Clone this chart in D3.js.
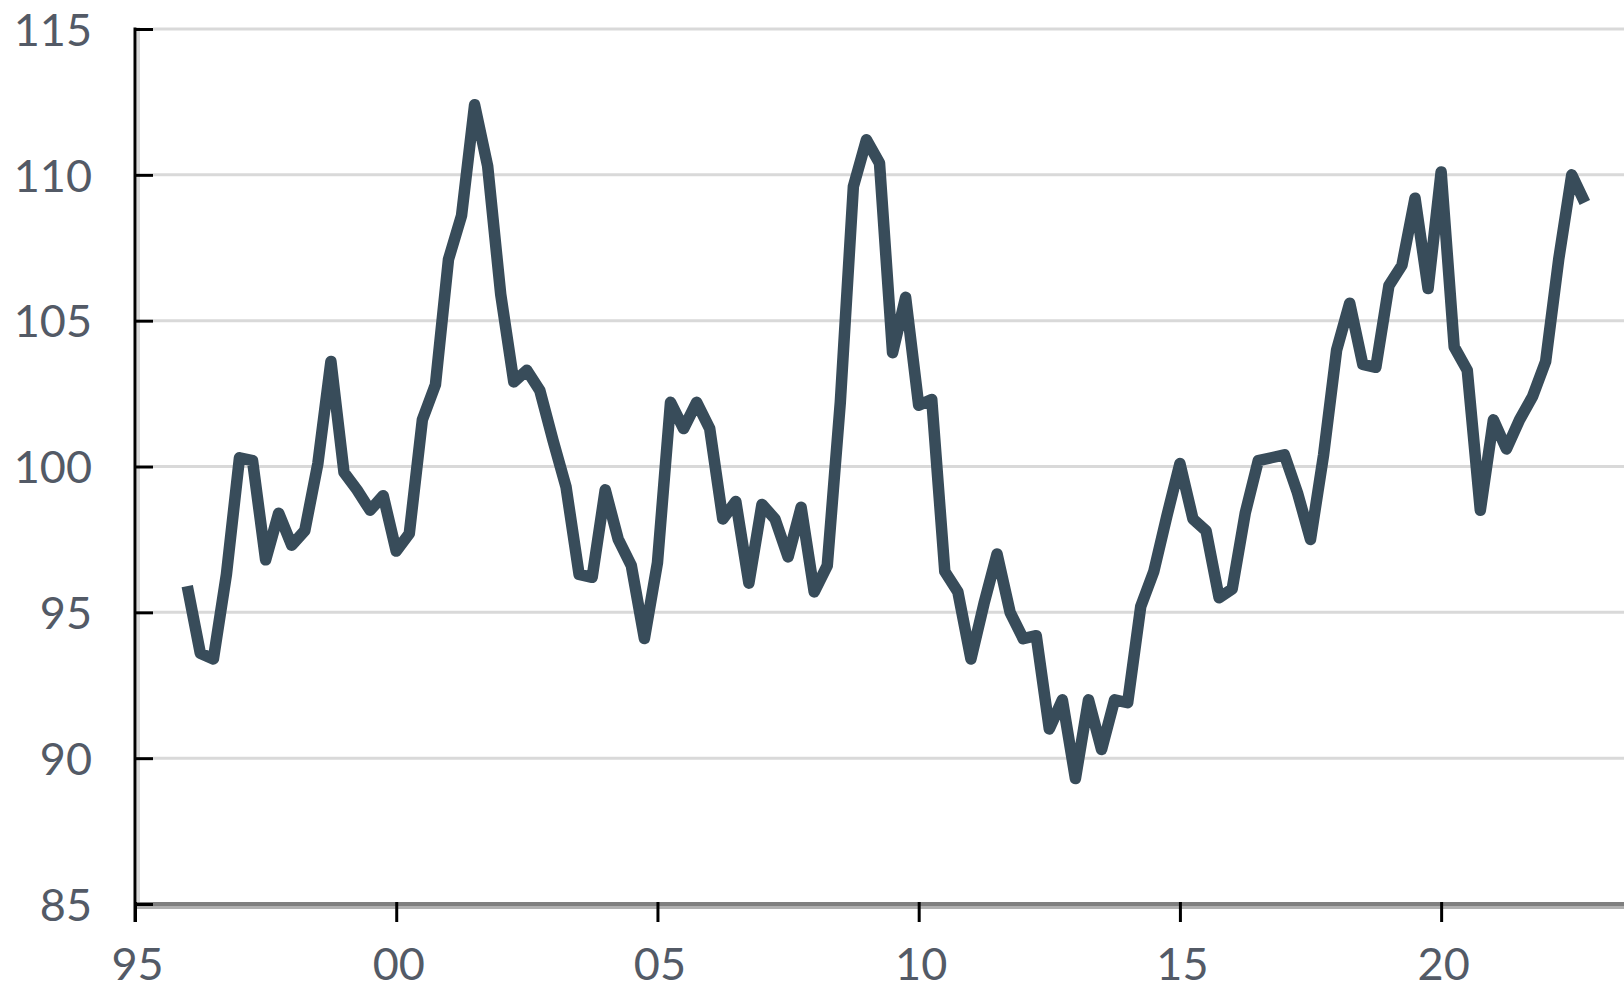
<!DOCTYPE html>
<html>
<head>
<meta charset="utf-8">
<script src="https://cdn.jsdelivr.net/npm/d3@7/dist/d3.min.js"></script>
<style>
  html, body { margin: 0; padding: 0; background: #ffffff; }
  svg { display: block; }
  text { font-family: Lato, "Open Sans", sans-serif; }
</style>
</head>
<body>
<svg id="chart" width="1624" height="986"></svg>
<script>
// ---- data (quarterly, 1996Q1 .. 2022Q4) ----
const years = [1996,1997,1998,1999,2000,2001,2002,2003,2004,2005,2006,2007,2008,
               2009,2010,2011,2012,2013,2014,2015,2016,2017,2018,2019,2020,2021,2022];
const quarters = ["Q1","Q2","Q3","Q4"];
const values = [
  95.9, 93.6, 93.4, 96.3,     // 1996
  100.3, 100.2, 96.8, 98.4,   // 1997
  97.3, 97.8, 100.1, 103.6,   // 1998
  99.8, 99.2, 98.5, 99.0,     // 1999
  97.1, 97.7, 101.6, 102.8,   // 2000
  107.1, 108.6, 112.4, 110.3, // 2001
  105.9, 102.9, 103.3, 102.6, // 2002
  100.9, 99.3, 96.3, 96.2,    // 2003
  99.2, 97.5, 96.6, 94.1,     // 2004
  96.7, 102.2, 101.3, 102.2,  // 2005
  101.3, 98.2, 98.8, 96.0,    // 2006
  98.7, 98.2, 96.9, 98.6,     // 2007
  95.7, 96.6, 102.2, 109.6,   // 2008
  111.2, 110.4, 103.9, 105.8, // 2009
  102.1, 102.3, 96.4, 95.7,   // 2010
  93.4, 95.3, 97.0, 95.0,     // 2011
  94.1, 94.2, 91.0, 92.0,     // 2012
  89.3, 92.0, 90.3, 92.0,     // 2013
  91.9, 95.2, 96.4, 98.3,     // 2014
  100.1, 98.2, 97.8, 95.5,    // 2015
  95.8, 98.4, 100.2, 100.3,   // 2016
  100.4, 99.1, 97.5, 100.4,   // 2017
  104.0, 105.6, 103.5, 103.4, // 2018
  106.2, 106.9, 109.2, 106.1, // 2019
  110.1, 104.1, 103.3, 98.5,  // 2020
  101.6, 100.6, 101.6, 102.4, // 2021
  103.6, 107.1, 110.0, 109.05 // 2022
];
const yTickValues = [85, 90, 95, 100, 105, 110, 115];
const yTickLabels = ["85", "90", "95", "100", "105", "110", "115"];
const xTickValues = [1995, 2000, 2005, 2010, 2015, 2020];
const xTickLabels = ["95", "00", "05", "10", "15", "20"];

// ---- build points ----
const points = values.map((v, i) => ({
  t: years[Math.floor(i / quarters.length)] + (i % quarters.length) / quarters.length,
  v: v
}));

// ---- layout ----
const svg = d3.select("#chart");
const W = 1624, H = 986;
const axisX = 135, axisY = 904, topY = 29;

const x = d3.scaleLinear().domain([1995, 2023.5]).range([axisX, W]);
const y = d3.scaleLinear().domain([85, 115]).range([axisY, topY]);

svg.append("rect").attr("width", W).attr("height", H).attr("fill", "#ffffff");

// gridlines
svg.append("g").selectAll("line")
  .data(yTickValues.filter(d => d > 85))
  .join("line")
  .attr("x1", axisX + 18).attr("x2", W)
  .attr("y1", d => y(d)).attr("y2", d => y(d))
  .attr("stroke", "#d9d9d9").attr("stroke-width", 3);

// light vertical line beside y axis
svg.append("line")
  .attr("x1", axisX + 3.5).attr("x2", axisX + 3.5)
  .attr("y1", y(115) - 1.5).attr("y2", axisY)
  .attr("stroke", "#d9d9d9").attr("stroke-width", 3);

// x axis base lines
svg.append("line")
  .attr("x1", axisX).attr("x2", W).attr("y1", axisY).attr("y2", axisY)
  .attr("stroke", "#7f7f7f").attr("stroke-width", 4);
svg.append("line")
  .attr("x1", axisX).attr("x2", W).attr("y1", axisY + 3.5).attr("y2", axisY + 3.5)
  .attr("stroke", "#b0b0b0").attr("stroke-width", 3);

// y axis labels
const yAxis = d3.axisLeft(y)
  .tickValues(yTickValues)
  .tickFormat((d, i) => yTickLabels[i])
  .tickSize(0)
  .tickPadding(43);
const gy = svg.append("g").attr("transform", `translate(${axisX},0)`).call(yAxis);
gy.select(".domain").remove();
gy.selectAll("text")
  .attr("font-size", 45).attr("fill", "#535a66")
  .attr("dy", "0.36em")
  .style("font-family", "Lato, 'Open Sans', sans-serif");

// y axis inner ticks + black spine
const yTicksIn = d3.axisRight(y).tickValues(yTickValues).tickFormat("").tickSize(18);
const gyt = svg.append("g").attr("transform", `translate(${axisX},0)`).call(yTicksIn);
gyt.select(".domain").remove();
gyt.selectAll(".tick line").attr("stroke", "#000").attr("stroke-width", 3);

svg.append("line")
  .attr("x1", axisX).attr("x2", axisX)
  .attr("y1", y(115) - 1.5).attr("y2", axisY + 18)
  .attr("stroke", "#000").attr("stroke-width", 3);

// x axis ticks + labels
const xAxis = d3.axisBottom(x)
  .tickValues(xTickValues)
  .tickFormat((d, i) => xTickLabels[i])
  .tickSize(18)
  .tickPadding(26);
const gx = svg.append("g").attr("transform", `translate(0,${axisY})`).call(xAxis);
gx.select(".domain").remove();
gx.selectAll(".tick line").attr("stroke", "#000").attr("stroke-width", 3).attr("y1", -2);
gx.selectAll("text")
  .attr("font-size", 45).attr("fill", "#535a66")
  .attr("dx", 2)
  .style("font-family", "Lato, 'Open Sans', sans-serif");

// series line
const line = d3.line()
  .x(d => x(d.t))
  .y(d => y(d.v));

svg.append("path")
  .datum(points)
  .attr("d", line)
  .attr("fill", "none")
  .attr("stroke", "#384c5a")
  .attr("stroke-width", 11.5)
  .attr("stroke-linejoin", "round")
  .attr("stroke-linecap", "butt");
</script>
</body>
</html>
